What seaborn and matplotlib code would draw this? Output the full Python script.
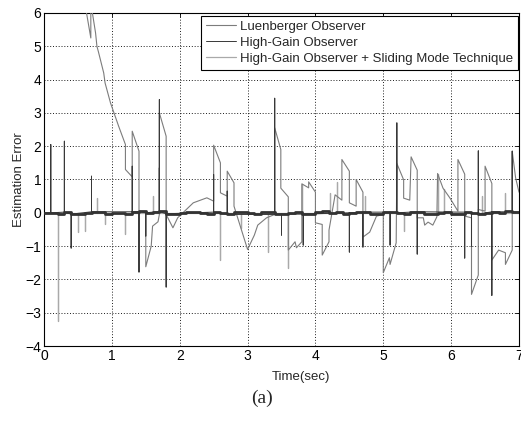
import numpy as np
import pandas as pd
import matplotlib
matplotlib.use("Agg")
import matplotlib.pyplot as plt
import seaborn as sns

# ---- data ---------------------------------------------------------------
# Luenberger observer error: piecewise trajectory (time, error)
lu_t = [0.50, 0.69, 0.69, 0.76, 0.78, 0.80, 0.88, 0.90, 0.98, 1.10, 1.20, 1.20, 1.30,
        1.30, 1.40, 1.40, 1.50, 1.50, 1.58, 1.60, 1.68, 1.70, 1.70, 1.80, 1.80, 1.90,
        1.97, 2.20, 2.40, 2.50, 2.50, 2.60, 2.60, 2.70, 2.70, 2.80, 2.80, 3.00, 3.10,
        3.15, 3.28, 3.40, 3.40, 3.49, 3.49, 3.60, 3.60, 3.70, 3.72, 3.80, 3.80, 3.90,
        3.90, 4.00, 4.00, 4.10, 4.10, 4.20, 4.20, 4.29, 4.39, 4.39, 4.50, 4.50, 4.60,
        4.60, 4.70, 4.70, 4.80, 4.90, 5.00, 5.00, 5.09, 5.10, 5.19, 5.20, 5.30, 5.30,
        5.39, 5.41, 5.50, 5.50, 5.59, 5.61, 5.66, 5.73, 5.79, 5.80, 5.88, 5.98, 6.10,
        6.10, 6.20, 6.20, 6.30, 6.30, 6.40, 6.40, 6.50, 6.50, 6.60, 6.60, 6.70, 6.80,
        6.80, 6.90, 6.90, 6.95, 7.00]
lu_e = [7.50, 5.25, 6.30, 5.40, 5.00, 4.85, 4.20, 3.90, 3.30, 2.60, 2.05, 1.30, 1.08,
        2.45, 1.85, 0.05, 0.00, -1.62, -1.00, -0.40, -0.27, -0.05, 3.00, 2.30, -0.05, -0.45,
        -0.15, 0.30, 0.45, 0.35, 2.03, 1.50, 0.60, 0.50, 1.25, 0.90, 0.20, -1.10, -0.67,
        -0.37, -0.15, -0.05, 2.55, 1.90, 0.74, 0.48, -1.12, -0.87, -1.05, -0.87, 0.87, 0.75,
        0.93, 0.62, -0.30, -0.35, -1.27, -0.87, -0.52, 0.54, 0.38, 1.60, 1.25, 0.30, 0.20,
        1.00, 0.62, -0.73, -0.58, -0.10, -0.05, -1.80, -1.35, -1.55, -0.90, 1.48, 0.99, 0.44,
        0.38, 1.68, 1.28, -0.15, -0.15, -0.37, -0.28, -0.37, -0.12, 1.18, 0.74, 0.45, 0.05,
        1.60, 1.16, -0.10, -0.15, -2.45, -1.87, 0.10, 0.05, 1.40, 0.88, -1.42, -1.12, -1.20,
        -1.55, -1.12, 1.85, 1.05, 0.62]

# High-gain observer: impulsive peaks (time, peak error)
hg_spike_t = [0.10, 0.30, 0.40, 0.70, 1.30, 1.40, 1.50, 1.70, 1.70, 1.80, 2.50, 2.70,
              3.40, 3.50, 3.82, 4.50, 4.70, 5.10, 5.20, 5.50, 6.20, 6.30, 6.40, 6.60, 6.90]
hg_spike_e = [2.05, 2.15, -1.06, 1.10, 1.40, -1.78, -0.70, 3.40, 1.35, -2.23, 1.15, 0.65,
              3.44, -0.67, -0.97, -1.18, -1.03, -0.97, 2.70, -1.24, -1.36, -1.00, 1.86, -2.48, 1.85]

# High-gain observer + sliding mode: impulsive peaks (time, peak error)
sm_spike_t = [0.20, 0.50, 0.60, 0.78, 0.90, 1.20, 1.60, 2.60, 2.90, 3.30, 3.60, 3.80,
              4.21, 4.32, 4.73, 5.30, 5.80, 5.90, 6.45, 6.80]
sm_spike_e = [-3.25, -0.58, -0.55, 0.45, -0.35, -0.65, 0.50, -1.42, -0.45, -1.18, -1.66, 0.87,
              0.60, 0.92, 0.50, -0.55, 1.18, 0.70, 0.50, 0.60]

# Steady chattering level of the high-gain error, one value per 0.1 s
hg_base_t = np.round(np.arange(0.0, 7.01, 0.1), 2)
hg_base_e = [0.00, 0.00, -0.05, 0.02, -0.04, -0.04, -0.02, 0.03, 0.02, -0.03,
             -0.02, 0.00, -0.04, 0.03, 0.04, 0.00, 0.02, 0.04, -0.03, -0.04,
             0.00, 0.02, 0.03, 0.00, -0.04, 0.02, 0.00, -0.05, 0.02, 0.03,
             0.00, -0.04, 0.02, 0.03, -0.05, -0.04, 0.00, 0.02, -0.04, -0.04,
             0.03, 0.04, 0.00, 0.02, -0.04, 0.00, 0.03, 0.02, -0.04, -0.05,
             0.03, 0.02, 0.00, -0.04, 0.02, 0.03, -0.04, -0.05, 0.00, 0.02,
             -0.04, -0.03, 0.02, 0.00, -0.04, -0.02, 0.03, 0.00, 0.04, 0.03, 0.02]

x_ticks = list(range(0, 8))
y_ticks = list(range(-4, 7))


def spikes_to_frame(times, peaks, base, label):
    """Turn impulse peaks into a trace that leaves and returns to the base level."""
    xs, ys = [0.0], [base[0]]
    for t, p in sorted(zip(times, peaks)):
        b = base[min(int(round(t * 10)), len(base) - 1)]
        xs += [t, t, t]
        ys += [b, p, b]
    xs.append(7.0)
    ys.append(base[-1])
    return pd.DataFrame({"t": xs, "e": ys, "series": label, "order": range(len(xs))})


lab_lu = "Luenberger Observer"
lab_hg = "High-Gain Observer"
lab_sm = "High-Gain Observer + Sliding Mode Technique"

df_lu = pd.DataFrame({"t": lu_t, "e": lu_e, "series": lab_lu, "order": range(len(lu_t))})
df_hg = spikes_to_frame(hg_spike_t, hg_spike_e, hg_base_e, lab_hg)
df_sm = spikes_to_frame(sm_spike_t, sm_spike_e, [0.0] * len(hg_base_e), lab_sm)
df_base = pd.DataFrame({"t": hg_base_t, "e": hg_base_e})

# ---- figure -------------------------------------------------------------
sns.set_style("white")
plt.rcParams["font.family"] = ["Liberation Sans", "DejaVu Sans"]

fig = plt.figure(figsize=(5.21, 4.21), dpi=100)
ax = fig.add_axes([44 / 521, 1 - 346 / 421, 475 / 521, 333 / 421])

colors = {lab_lu: "#7c7c7c", lab_hg: "#383838", lab_sm: "#a9a9a9"}

sns.lineplot(data=df_sm, x="t", y="e", sort=False, estimator=None, color=colors[lab_sm],
             lw=0.9, ax=ax, label=lab_sm, zorder=2)
sns.lineplot(data=df_lu, x="t", y="e", sort=False, estimator=None, color=colors[lab_lu],
             lw=0.8, ax=ax, label=lab_lu, zorder=3)
sns.lineplot(data=df_hg, x="t", y="e", sort=False, estimator=None, color=colors[lab_hg],
             lw=0.7, ax=ax, label=lab_hg, zorder=4)
ax.step(df_base["t"], df_base["e"], where="post", color="#333333", lw=2.0, zorder=5)

ax.set_xlim(0, 7)
ax.set_ylim(-4, 6)
ax.set_xticks(x_ticks)
ax.set_yticks(y_ticks)
ax.tick_params(direction="in", length=3, width=0.6, labelsize=10, colors="black",
               top=True, right=True, pad=2)
ax.grid(True, color="black", linestyle=(0, (1.2, 2.2)), linewidth=0.6)
for s in ax.spines.values():
    s.set_visible(True)
    s.set_color("black")
    s.set_linewidth(0.8)

ax.set_xlabel("Time(sec)", fontsize=9.5)
ax.xaxis.set_label_coords(0.54, -0.075)
ax.set_ylabel("Estimation Error", fontsize=9.5)
ax.yaxis.set_label_coords(-0.04, 0.5)

handles, labels = ax.get_legend_handles_labels()
order = [labels.index(lab_lu), labels.index(lab_hg), labels.index(lab_sm)]
leg = ax.legend([handles[i] for i in order], [labels[i] for i in order],
                loc="upper right", bbox_to_anchor=(0.998, 0.992), borderaxespad=0,
                fontsize=9.5, frameon=True, fancybox=False, framealpha=1,
                edgecolor="black", handlelength=2.3, handletextpad=0.3,
                labelspacing=0.3, borderpad=0.35)
leg.get_frame().set_linewidth(0.8)

fig.text(262 / 521, 1 - 398 / 421, "(a)", ha="center", va="center", fontsize=14,
         family=["Liberation Serif", "DejaVu Serif"])

fig.savefig("out.png", dpi=100)
